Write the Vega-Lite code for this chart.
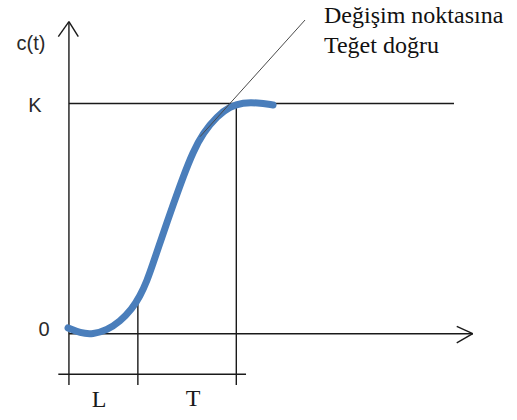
{
  "$schema": "https://vega.github.io/schema/vega-lite/v6.json",
  "width": 517,
  "height": 420,
  "autosize": {"type": "fit", "contains": "padding"},
  "padding": 0,
  "background": "white",
  "config": {"view": {"stroke": null}},
  "datasets": {
    "frame": [
      {"part": "y-axis", "t1": 0, "c1": -0.223, "t2": 0, "c2": 1.356},
      {"part": "y-arrow-left", "t1": -0.154, "c1": 1.291, "t2": 0, "c2": 1.356},
      {"part": "y-arrow-right", "t1": 0.136, "c1": 1.291, "t2": 0, "c2": 1.356},
      {"part": "x-axis", "t1": 0, "c1": 0, "t2": 5.858, "c2": 0},
      {"part": "x-arrow-up", "t1": 5.626, "c1": 0.032, "t2": 5.858, "c2": 0},
      {"part": "x-arrow-down", "t1": 5.626, "c1": -0.04, "t2": 5.858, "c2": 0},
      {"part": "K level", "t1": 0, "c1": 1, "t2": 5.586, "c2": 1},
      {"part": "L marker", "t1": 1.0, "c1": 0.139, "t2": 1.0, "c2": -0.223},
      {"part": "L+T marker", "t1": 2.428, "c1": 1, "t2": 2.428, "c2": -0.223},
      {"part": "time bar", "t1": -0.154, "c1": -0.176, "t2": 2.569, "c2": -0.176}
    ],
    "response": [
      {"t": -0.013, "c": 0.025},
      {"t": 0.161, "c": 0.003},
      {"t": 0.349, "c": -0.003},
      {"t": 0.552, "c": 0.016},
      {"t": 0.741, "c": 0.053},
      {"t": 0.915, "c": 0.108},
      {"t": 1.031, "c": 0.163},
      {"t": 1.133, "c": 0.23},
      {"t": 1.22, "c": 0.305},
      {"t": 1.321, "c": 0.395},
      {"t": 1.423, "c": 0.484},
      {"t": 1.539, "c": 0.583},
      {"t": 1.655, "c": 0.68},
      {"t": 1.8, "c": 0.79},
      {"t": 1.945, "c": 0.872},
      {"t": 2.148, "c": 0.945},
      {"t": 2.337, "c": 0.988},
      {"t": 2.525, "c": 1.004},
      {"t": 2.728, "c": 1.004},
      {"t": 2.961, "c": 0.994}
    ],
    "tangent": [
      {"t1": 1.902, "c1": 0.856, "t2": 3.425, "c2": 1.363}
    ],
    "sansLabels": [
      {"label": "c(t)", "t": -0.55, "c": 1.259},
      {"label": "K", "t": -0.492, "c": 0.989},
      {"label": "0", "t": -0.362, "c": 0.016}
    ],
    "serifLabels": [
      {"label": "L", "t": 0.436, "c": -0.288},
      {"label": "T", "t": 1.8, "c": -0.284}
    ],
    "note": [
      {"label": "Değişim noktasına", "t": 3.7, "c": 1.35},
      {"label": "Teğet doğru", "t": 3.7, "c": 1.218}
    ]
  },
  "layer": [
    {
      "data": {"name": "frame"},
      "mark": {"type": "rule", "color": "#1a1a1a", "strokeWidth": 1.4},
      "encoding": {
        "x": {"field": "t1", "type": "quantitative", "scale": {"domain": [-1, 6.5], "nice": false, "zero": false}, "axis": null},
        "y": {"field": "c1", "type": "quantitative", "scale": {"domain": [-0.375, 1.45], "nice": false, "zero": false}, "axis": null},
        "x2": {"field": "t2"},
        "y2": {"field": "c2"}
      }
    },
    {
      "data": {"name": "response"},
      "mark": {"type": "line", "color": "#4a7ebb", "strokeWidth": 7, "interpolate": "basis", "strokeCap": "round"},
      "encoding": {
        "x": {"field": "t", "type": "quantitative"},
        "y": {"field": "c", "type": "quantitative"}
      }
    },
    {
      "data": {"name": "tangent"},
      "mark": {"type": "rule", "color": "#4a4a4a", "strokeWidth": 1},
      "encoding": {
        "x": {"field": "t1", "type": "quantitative"},
        "y": {"field": "c1", "type": "quantitative"},
        "x2": {"field": "t2"},
        "y2": {"field": "c2"}
      }
    },
    {
      "data": {"name": "sansLabels"},
      "mark": {"type": "text", "font": "Liberation Sans", "fontSize": 20, "color": "#2a2a2a", "align": "center", "baseline": "middle"},
      "encoding": {
        "x": {"field": "t", "type": "quantitative"},
        "y": {"field": "c", "type": "quantitative"},
        "text": {"field": "label"}
      }
    },
    {
      "data": {"name": "serifLabels"},
      "mark": {"type": "text", "font": "Liberation Serif", "fontSize": 24, "color": "#1a1a1a", "align": "center", "baseline": "middle"},
      "encoding": {
        "x": {"field": "t", "type": "quantitative"},
        "y": {"field": "c", "type": "quantitative"},
        "text": {"field": "label"}
      }
    },
    {
      "data": {"name": "note"},
      "mark": {"type": "text", "font": "Liberation Serif", "fontSize": 24, "color": "#111111", "align": "left", "baseline": "alphabetic"},
      "encoding": {
        "x": {"field": "t", "type": "quantitative"},
        "y": {"field": "c", "type": "quantitative"},
        "text": {"field": "label"}
      }
    }
  ]
}
